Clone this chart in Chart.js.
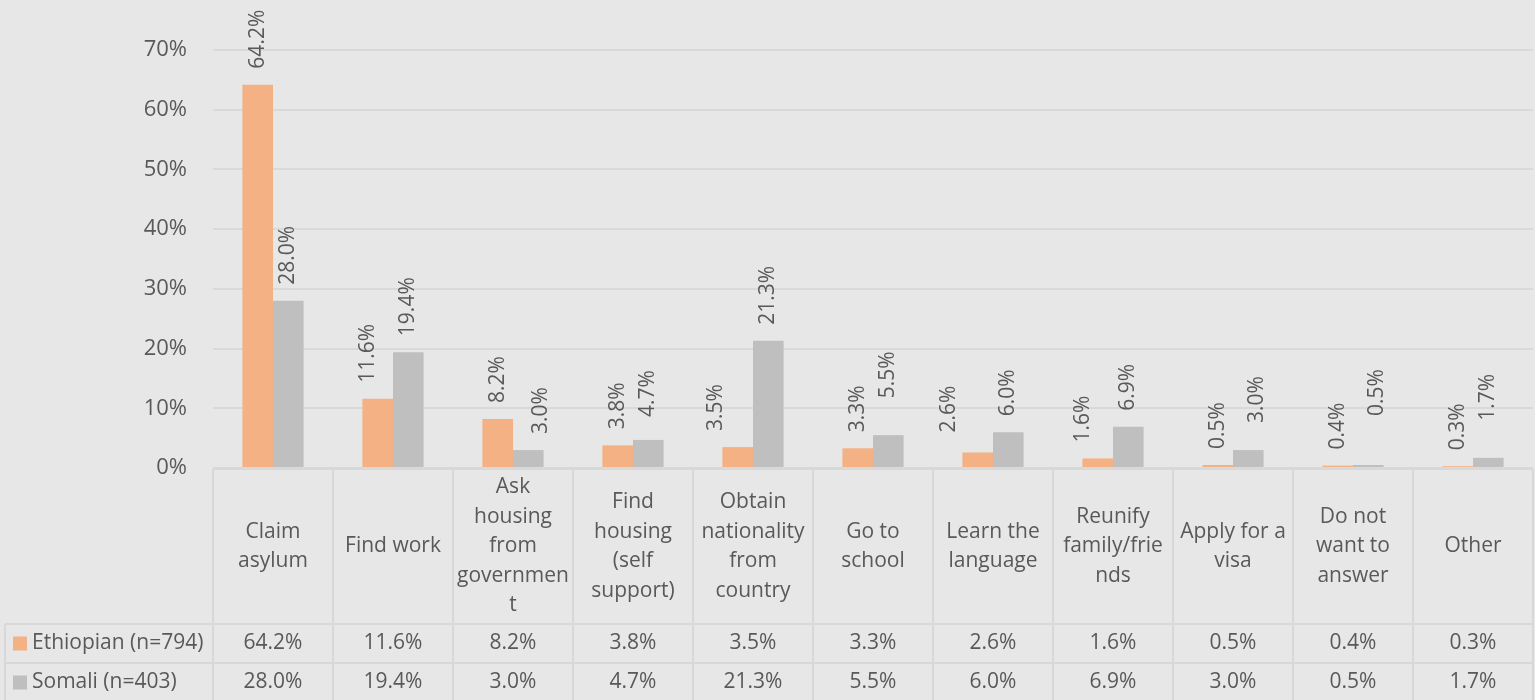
<!DOCTYPE html>
<html>
<head>
<meta charset="utf-8">
<script src="https://cdn.jsdelivr.net/npm/chart.js@4/dist/chart.umd.min.js"></script>
<style>
html,body{margin:0;padding:0;background:#e7e7e7;}
canvas{display:block;}
</style>
</head>
<body>
<canvas id="c" width="1535" height="700"></canvas>
<script>
const categories = [
  ["Claim", "asylum"],
  ["Find work"],
  ["Ask", "housing", "from", "governmen", "t"],
  ["Find", "housing", "(self", "support)"],
  ["Obtain", "nationality", "from", "country"],
  ["Go to", "school"],
  ["Learn the", "language"],
  ["Reunify", "family/frie", "nds"],
  ["Apply for a", "visa"],
  ["Do not", "want to", "answer"],
  ["Other"]
];
const seriesNames = ["Ethiopian (n=794)", "Somali (n=403)"];
const ethiopian = [64.2, 11.6, 8.2, 3.8, 3.5, 3.3, 2.6, 1.6, 0.5, 0.4, 0.3];
const somali = [28.0, 19.4, 3.0, 4.7, 21.3, 5.5, 6.0, 6.9, 3.0, 0.5, 1.7];
const yMin = 0, yMax = 70, yStep = 10;

const FONT = "'Open Sans', 'DejaVu Sans', sans-serif";
const TEXT = "#595959";
const LINE = "#d8d8d8";
const COLORS = ["#F4B183", "#BFBFBF"];

const fmt = v => v.toFixed(1) + "%";

const bgPlugin = {
  id: "bg",
  beforeDraw(chart) {
    const c = chart.ctx;
    c.save();
    c.fillStyle = "#e7e7e7";
    c.fillRect(0, 0, chart.width, chart.height);
    c.restore();
  }
};

const labelPlugin = {
  id: "barLabels",
  afterDatasetsDraw(chart, args, opts) {
    const c = chart.ctx;
    c.save();
    c.fillStyle = TEXT;
    c.font = "21px " + FONT;
    c.textAlign = "left";
    c.textBaseline = "middle";
    chart.data.datasets.forEach((ds, d) => {
      const meta = chart.getDatasetMeta(d);
      const nudge = opts.nudge[d];
      meta.data.forEach((bar, i) => {
        const x = bar.x + nudge.dx[i];
        const y = bar.y - opts.gap - nudge.dy[i];
        c.save();
        c.translate(x, y);
        c.rotate(-Math.PI / 2);
        c.fillText(fmt(ds.data[i]), 0, 0);
        c.restore();
      });
    });
    c.restore();
  }
};

const tablePlugin = {
  id: "dataTable",
  afterDraw(chart, args, opts) {
    const c = chart.ctx, ca = chart.chartArea;
    const n = chart.data.labels.length;
    const colW = (ca.right - ca.left) / n;
    const top = ca.bottom + 1;
    const catBottom = top + opts.catRowH;
    const r1 = catBottom + opts.rowH;
    const r2 = r1 + opts.rowH;
    const left = opts.legendLeft;
    c.save();
    c.strokeStyle = LINE;
    c.lineWidth = 2;
    c.beginPath();
    c.moveTo(ca.left, top); c.lineTo(ca.right, top);
    [catBottom, r1, r2].forEach(y => { c.moveTo(left, y); c.lineTo(ca.right, y); });
    c.moveTo(left, catBottom); c.lineTo(left, r2);
    for (let k = 0; k <= n; k++) {
      const x = ca.left + k * colW;
      c.moveTo(x, top); c.lineTo(x, r2);
    }
    c.stroke();

    c.fillStyle = TEXT;
    c.font = "21px " + FONT;
    c.textAlign = "center";
    c.textBaseline = "middle";
    const lh = opts.lineH;
    chart.data.labels.forEach((lines, i) => {
      const cx = chart.scales.x.getPixelForValue(i);
      const cy = (top + catBottom) / 2;
      const y0 = cy - (lines.length - 1) * lh / 2;
      lines.forEach((t, j) => c.fillText(t, cx, y0 + j * lh));
    });
    const rows = [[catBottom, r1], [r1, r2]];
    chart.data.datasets.forEach((ds, d) => {
      const cy = (rows[d][0] + rows[d][1]) / 2;
      c.fillStyle = ds.backgroundColor;
      c.fillRect(left + 8, cy - 7, 14, 14);
      c.fillStyle = TEXT;
      c.textAlign = "left";
      c.fillText(ds.label, left + 27, cy);
      c.textAlign = "center";
      ds.data.forEach((v, i) => {
        c.fillText(fmt(v), chart.scales.x.getPixelForValue(i), cy);
      });
    });
    c.restore();
  }
};

new Chart(document.getElementById("c"), {
  type: "bar",
  data: {
    labels: categories,
    datasets: [
      { label: seriesNames[0], data: ethiopian, backgroundColor: COLORS[0] },
      { label: seriesNames[1], data: somali, backgroundColor: COLORS[1] }
    ]
  },
  options: {
    responsive: false,
    animation: false,
    devicePixelRatio: 1,
    layout: { padding: { top: 50, right: 2, bottom: 232, left: 0 } },
    datasets: { bar: { categoryPercentage: 0.51, barPercentage: 1, borderWidth: 0 } },
    plugins: {
      legend: { display: false },
      tooltip: { enabled: false },
      barLabels: {
        gap: 16,
        nudge: [
          { dx: [0, -10, 0, 0, -22, 0, -29, -15, 0, 0, 0], dy: [0, 0, 0, 0, 0, 0, 4, 0, 0, 0, 0] },
          { dx: [0, 0, 13, 0, 0, 0, 0, 0, 9, 9, 0], dy: [0, 0, 0, 7, 0, 21, 0, 0, 11, 33, 21] }
        ]
      },
      dataTable: { catRowH: 155, rowH: 39, lineH: 29.5, legendLeft: 5 }
    },
    scales: {
      x: { display: false },
      y: {
        min: yMin, max: yMax,
        afterFit(scale) { scale.width = 213; },
        border: { display: false },
        grid: { color: "#d9d9d9", lineWidth: 2, drawTicks: false },
        ticks: {
          stepSize: yStep,
          padding: 26,
          color: TEXT,
          font: { family: FONT, size: 22 },
          callback: v => v + "%"
        }
      }
    }
  },
  plugins: [bgPlugin, labelPlugin, tablePlugin]
});
</script>
</body>
</html>
